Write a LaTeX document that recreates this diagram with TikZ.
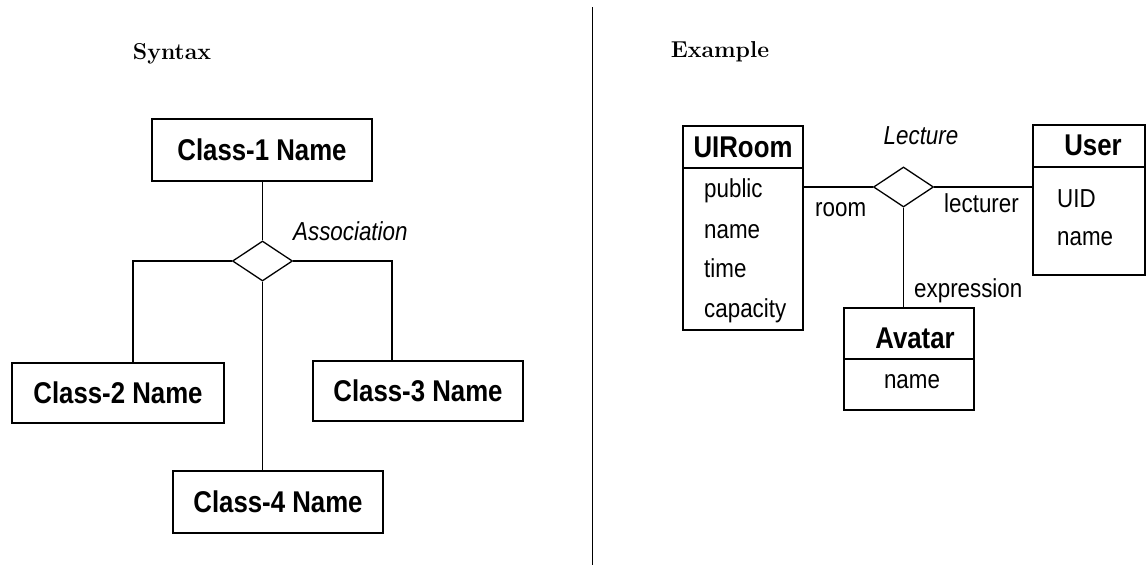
\documentclass[tikz,border=0pt]{standalone}
\usepackage{fontspec}
\newfontfamily\hv[FakeStretch=0.86]{Liberation Sans}
\usetikzlibrary{shapes.geometric}
\begin{document}
\begin{tikzpicture}[x=1pt,y=-1pt,
  box/.style={draw,line width=1.6pt,inner sep=0pt},
  sep/.style={line width=1.4pt},
  link/.style={line width=1.1pt},
  rel/.style={draw,diamond,line width=1.3pt,inner sep=0pt,minimum width=60pt,minimum height=40pt},
  heading/.style={inner sep=0pt,anchor=base,font=\fontsize{23}{27}\selectfont\bfseries},
  cname/.style={font=\hv\fontsize{30}{36}\selectfont\bfseries},
  title/.style={inner sep=0pt,anchor=base,font=\hv\fontsize{30}{36}\selectfont\bfseries},
  attr/.style={inner sep=0pt,anchor=base west,font=\hv\fontsize{26}{31}\selectfont},
  role/.style={inner sep=0pt,anchor=base west,font=\hv\fontsize{26}{31}\selectfont},
  aname/.style={inner sep=0pt,font=\hv\fontsize{26}{31}\selectfont\itshape}]
\useasboundingbox (0,0) rectangle (1148,565);

% ---------- headings and divider ----------
\node[heading] (hsyn) at (172,59) {Syntax};
\node[heading] (hex) at (720,57) {Example};
\coordinate (divtop) at (592,7);
\coordinate (divbot) at (592,565);
\draw[line width=1pt] (divtop) -- (divbot);

% ---------- syntax: n-ary association ----------
\node[box,cname,minimum width=220pt,minimum height=62pt] (c1) at (262,150) {Class-1 Name};
\node[box,cname,minimum width=212pt,minimum height=60pt] (c2) at (118,393) {Class-2 Name};
\node[box,cname,minimum width=210pt,minimum height=60pt] (c3) at (418,391) {Class-3 Name};
\node[box,cname,minimum width=210pt,minimum height=62pt] (c4) at (278,502) {Class-4 Name};
\node[rel] (assoc) at (262.5,261) {};
\node[aname,anchor=base west] (assocname) at (293,240.5) {Association};

\coordinate (j2) at (133,261);
\coordinate (j3) at (392,261);
\draw[link] (c1.south -| assoc.north) -- (assoc.north);
\draw[link] (assoc.west) -- (j2) -- (j2 |- c2.north);
\draw[link] (assoc.east) -- (j3) -- (j3 |- c3.north);
\draw[link] (assoc.south) -- (assoc.south |- c4.north);

% ---------- example: Lecture association ----------
% UIRoom
\node[box,minimum width=120pt,minimum height=204pt] (ui) at (743,228) {};
\draw[sep] (ui.west |- 0,168) -- (ui.east |- 0,168);
\node[title] (uit) at (743,157) {UIRoom};
\node[attr] (ua1) at (704,197) {public};
\node[attr] (ua2) at (704,238) {name};
\node[attr] (ua3) at (704,277) {time};
\node[attr] (ua4) at (704,317) {capacity};

% User
\node[box,minimum width=112pt,minimum height=150pt] (user) at (1089,200) {};
\draw[sep] (user.west |- 0,167) -- (user.east |- 0,167);
\node[title] (ust) at (1093,155) {User};
\node[attr] (us1) at (1057,207) {UID};
\node[attr] (us2) at (1057,245) {name};

% Avatar
\node[box,minimum width=130pt,minimum height=102pt] (av) at (909,359) {};
\draw[sep] (av.west |- 0,359) -- (av.east |- 0,359);
\node[title] (avt) at (915,348) {Avatar};
\node[title,font=\hv\fontsize{26}{31}\selectfont] (av1) at (912,388) {name};

% association diamond and its roles
\node[rel] (lect) at (903.5,187) {};
\node[aname,anchor=base] (lectname) at (921,144) {Lecture};
\draw[link] (lect.west) -- (lect.west -| ui.east);
\draw[link] (lect.east) -- (lect.east -| user.west);
\draw[link] (lect.south) -- (lect.south |- av.north);
\node[role] (rroom) at (815,216) {room};
\node[role] (rlect) at (944,212) {lecturer};
\node[role] (rexp) at (914,297) {expression};
\end{tikzpicture}
\end{document}
